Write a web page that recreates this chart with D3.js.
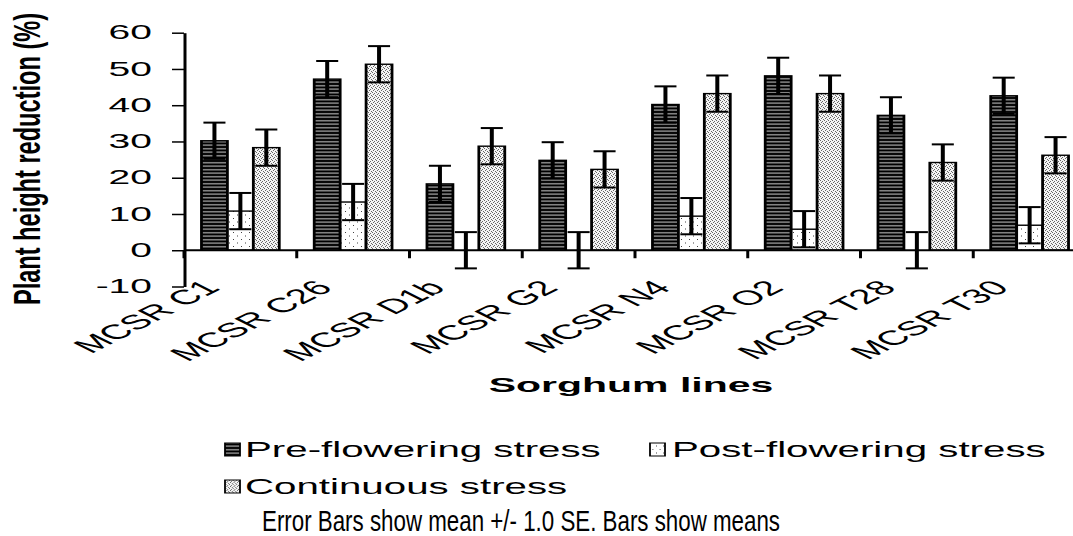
<!DOCTYPE html>
<html>
<head>
<meta charset="utf-8">
<script src="https://cdn.jsdelivr.net/npm/d3@7"></script>
<style>
  body { margin: 0; background: #fff; }
  svg { display: block; }
  text { font-family: "Liberation Sans", Arial, sans-serif; fill: #000; }
</style>
</head>
<body>
<div id="chart"></div>
<script>
//data
const lines = ["MCSR C1", "MCSR C26", "MCSR D1b", "MCSR G2", "MCSR N4", "MCSR O2", "MCSR T28", "MCSR T30"];
const seriesNames = ["Pre-flowering stress", "Post-flowering stress", "Continuous stress"];
const preFlowering = [30.2, 47.2, 18.3, 24.8, 40.2, 48.1, 37.2, 42.6];
const postFlowering = [10.8, 13.3, 0, 0, 9.4, 5.8, 0, 6.9];
const continuous = [28.3, 51.3, 28.7, 22.3, 43.2, 43.2, 24.2, 26.2];
const preSE = [5, 5, 5, 5, 5, 5, 5, 5];
const postSE = [5, 5, 5, 5, 5, 5, 5, 5];
const contSE = [5, 5, 5, 5, 5, 5, 5, 5];
const yTicks = [-10, 0, 10, 20, 30, 40, 50, 60];

//the original figure is stretched about 2x sideways, so the chart lives in a scaled group
var w = 1073,
    h = 536,
    sx = 2,
    legendSx = 1.79;

var svg = d3.select("#chart").append("svg")
    .attr("width", w)
    .attr("height", h);

var defs = svg.append("defs");

//black with thin light stripes
var pPre = defs.append("pattern").attr("id", "patPre")
    .attr("patternUnits", "userSpaceOnUse").attr("width", 4).attr("height", 3.5);
pPre.append("rect").attr("width", 4).attr("height", 3.5).attr("fill", "#000");
pPre.append("rect").attr("y", 1.2).attr("width", 4).attr("height", 1).attr("fill", "#d6d6d6");

//white with sparse dots
var pPost = defs.append("pattern").attr("id", "patPost")
    .attr("patternUnits", "userSpaceOnUse").attr("width", 4).attr("height", 7);
pPost.append("rect").attr("width", 4).attr("height", 7).attr("fill", "#fff");
pPost.append("rect").attr("x", 0.5).attr("y", 1).attr("width", 0.5).attr("height", 1).attr("fill", "#444");
pPost.append("rect").attr("x", 2.5).attr("y", 4.5).attr("width", 0.5).attr("height", 1).attr("fill", "#444");

//fine grey stipple
var pCont = defs.append("pattern").attr("id", "patCont")
    .attr("patternUnits", "userSpaceOnUse").attr("width", 2).attr("height", 4);
pCont.append("rect").attr("width", 2).attr("height", 4).attr("fill", "#f4f4f4");
[[0, 0], [1, 1], [0.5, 2], [1.5, 3]].forEach(function(p) {
  pCont.append("rect").attr("x", p[0]).attr("y", p[1]).attr("width", 0.5).attr("height", 1).attr("fill", "#666");
});

var fills = ["url(#patPre)", "url(#patPost)", "url(#patCont)"];

var g = svg.append("g").attr("transform", "scale(" + sx + ",1)");

var x = d3.scaleBand()
    .domain(lines)
    .range([184 / sx, 1086 / sx])
    .paddingInner(0.31)
    .paddingOuter(0.155);

var xs = d3.scaleBand()
    .domain(seriesNames)
    .range([0, x.bandwidth()]);

var y = d3.scaleLinear()
    .domain([-10, 60])
    .range([286.5, 32.7]);

//rows: one per line per series
var rows = [];
lines.forEach(function(l, i) {
  rows.push({ line: l, s: seriesNames[0], v: preFlowering[i], se: preSE[i], k: 0 });
  rows.push({ line: l, s: seriesNames[1], v: postFlowering[i], se: postSE[i], k: 1 });
  rows.push({ line: l, s: seriesNames[2], v: continuous[i], se: contSE[i], k: 2 });
});

//bars
g.append("g").selectAll("rect")
    .data(rows)
    .enter()
    .append("rect")
    .attr("x", function(d) { return x(d.line) + xs(d.s); })
    .attr("y", function(d) { return y(Math.max(d.v, 0)); })
    .attr("width", xs.bandwidth())
    .attr("height", function(d) { return Math.abs(y(d.v) - y(0)); })
    .attr("fill", function(d) { return fills[d.k]; })
    .attr("stroke", "#000")
    .attr("stroke-width", 1.4);

//error bars
var capW = xs.bandwidth() * 0.85;
var eb = g.append("g").attr("stroke", "#000").attr("stroke-width", 2);
rows.forEach(function(d) {
  var cx = x(d.line) + xs(d.s) + xs.bandwidth() / 2;
  eb.append("line").attr("x1", cx).attr("x2", cx).attr("y1", y(d.v + d.se)).attr("y2", y(d.v - d.se));
  eb.append("line").attr("x1", cx - capW / 2).attr("x2", cx + capW / 2).attr("y1", y(d.v + d.se)).attr("y2", y(d.v + d.se));
  eb.append("line").attr("x1", cx - capW / 2).attr("x2", cx + capW / 2).attr("y1", y(d.v - d.se)).attr("y2", y(d.v - d.se));
});

//y axis
var yAxis = g.append("g")
    .attr("transform", "translate(" + x.range()[0] + ",0)")
    .call(d3.axisLeft(y).tickValues(yTicks).tickSize(6).tickSizeOuter(0).tickPadding(10)
      .tickFormat(function(d) { return String(d); }));
yAxis.selectAll("path, line").attr("stroke", "#000").attr("stroke-width", 1.5);
yAxis.selectAll("text").attr("font-size", "19.5px").attr("font-family", "Liberation Sans, Arial, sans-serif").attr("fill", "#000");

//baseline at zero and ticks between the groups
g.append("line")
    .attr("x1", x.range()[0]).attr("x2", x.range()[1])
    .attr("y1", y(0)).attr("y2", y(0))
    .attr("stroke", "#000").attr("stroke-width", 2);

g.append("g").selectAll("line")
    .data(lines)
    .enter()
    .append("line")
    .attr("x1", function(d) { return x(d) - x.step() * x.paddingOuter(); })
    .attr("x2", function(d) { return x(d) - x.step() * x.paddingOuter(); })
    .attr("y1", y(0))
    .attr("y2", y(0) + 8)
    .attr("stroke", "#000").attr("stroke-width", 1.5);

//slanted category labels
g.append("g").selectAll("text")
    .data(lines)
    .enter()
    .append("text")
    .attr("transform", function(d) {
      return "translate(" + (x(d) + x.bandwidth() / 2 - 9.5) + ",289) rotate(-45)";
    })
    .attr("text-anchor", "end")
    .attr("font-size", "20.5px")
    .text(function(d) { return d; });

g.append("text")
    .attr("x", (x.range()[0] + x.range()[1]) / 2 - 2)
    .attr("y", 392)
    .attr("text-anchor", "middle")
    .attr("font-size", "20.5px")
    .attr("font-weight", "bold")
    .text("Sorghum lines");

//legend, a little less stretched than the plot
var legendPos = [[225, 245, 443], [650, 672, 443], [225, 245, 480]];
var lg = svg.append("g").attr("transform", "scale(" + legendSx + ",1)");
var legend = lg.selectAll("g")
    .data(seriesNames)
    .enter()
    .append("g");

legend.append("rect")
    .attr("x", function(d, i) { return legendPos[i][0] / legendSx; })
    .attr("y", function(d, i) { return legendPos[i][2]; })
    .attr("width", 15 / legendSx)
    .attr("height", 13)
    .attr("fill", function(d, i) { return fills[i]; })
    .attr("stroke", "#000")
    .attr("stroke-width", 1);

legend.append("text")
    .attr("x", function(d, i) { return legendPos[i][1] / legendSx; })
    .attr("y", function(d, i) { return legendPos[i][2] + 14.5; })
    .attr("font-size", "22.5px")
    .text(function(d) { return d; });

//y title sits outside the scaled group, it has its own stretch
svg.append("text")
    .attr("transform", "translate(40,159) scale(1.54,1) rotate(-90)")
    .attr("text-anchor", "middle")
    .attr("font-size", "23.6px")
    .attr("font-weight", "bold")
    .text("Plant height reduction (%)");

svg.append("text")
    .attr("x", 262)
    .attr("y", 531)
    .attr("font-size", "30px")
    .attr("font-family", "Liberation Sans Narrow, Arial Narrow, Liberation Sans, sans-serif")
    .attr("textLength", 518)
    .attr("lengthAdjust", "spacingAndGlyphs")
    .text("Error Bars show mean +/- 1.0 SE. Bars show means");
</script>
</body>
</html>
